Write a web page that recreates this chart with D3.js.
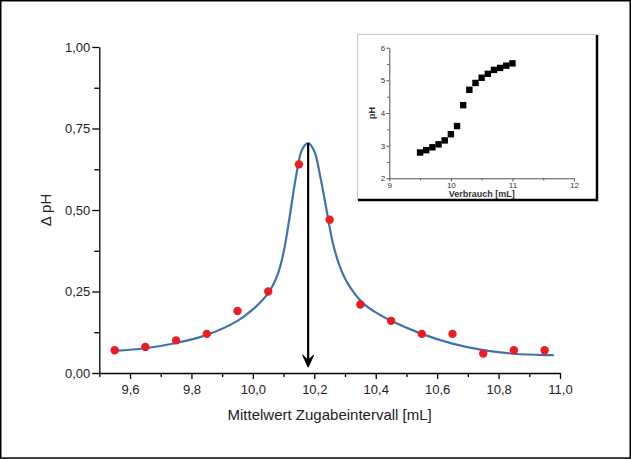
<!DOCTYPE html>
<html>
<head>
<meta charset="utf-8">
<script src="https://cdn.jsdelivr.net/npm/d3@7"></script>
<style>
  html, body { margin: 0; padding: 0; background: #fff; }
  svg { display: block; }
  text { font-family: Arial, "Liberation Sans", sans-serif; }
</style>
</head>
<body>
<svg id="chart" width="631" height="459"></svg>
<script>
// ---------- Data ----------
// Main chart: red points (Δ pH vs mean of addition interval)
const pointX = [9.55, 9.65, 9.75, 9.85, 9.95, 10.05, 10.15, 10.25, 10.35, 10.45, 10.55, 10.65, 10.75, 10.85, 10.95];
const pointY = [0.07, 0.08, 0.10, 0.12, 0.19, 0.25, 0.64, 0.47, 0.21, 0.16, 0.12, 0.12, 0.06, 0.07, 0.07];

// Fitted curve
const curveX = [9.55, 9.65, 9.75, 9.85, 9.95, 10.00, 10.05, 10.08, 10.10, 10.12, 10.14, 10.16, 10.18, 10.20, 10.22, 10.24, 10.26, 10.28, 10.30, 10.33, 10.36, 10.40, 10.45, 10.55, 10.65, 10.75, 10.85, 10.95, 10.98];
const curveY = [0.068, 0.076, 0.092, 0.117, 0.160, 0.195, 0.245, 0.300, 0.370, 0.480, 0.600, 0.685, 0.705, 0.680, 0.600, 0.500, 0.400, 0.335, 0.290, 0.245, 0.213, 0.186, 0.160, 0.120, 0.090, 0.070, 0.059, 0.055, 0.055];

// Equivalence-point arrow
const arrowX = 10.18;
const arrowTop = 0.705;
const arrowBottom = 0.018;

// Axis ticks
const xDomain = [9.5, 11.0];
const yDomain = [0, 1];
const xMajorTicks = [9.6, 9.8, 10.0, 10.2, 10.4, 10.6, 10.8, 11.0];
const xMinorTicks = [9.5, 9.7, 9.9, 10.1, 10.3, 10.5, 10.7, 10.9];
const yMajorTicks = [0, 0.25, 0.5, 0.75, 1.0];
const yMinorTicks = [0.125, 0.375, 0.625, 0.875];
const xTitle = "Mittelwert Zugabeintervall [mL]";
const yTitle = "\u0394 pH";

// Inset: titration curve
const insetX = [9.5, 9.6, 9.7, 9.8, 9.9, 10.0, 10.1, 10.2, 10.3, 10.4, 10.5, 10.6, 10.7, 10.8, 10.9, 11.0];
const insetY = [2.79, 2.86, 2.95, 3.04, 3.16, 3.35, 3.60, 4.24, 4.71, 4.92, 5.08, 5.20, 5.32, 5.38, 5.45, 5.52];
const insetXDomain = [9, 12];
const insetYDomain = [2, 6];
const insetXMajor = [9, 10, 11, 12];
const insetXMinor = [9.5, 10.5, 11.5];
const insetYMajor = [2, 3, 4, 5, 6];
const insetYMinor = [2.5, 3.5, 4.5, 5.5];
const insetXTitle = "Verbrauch [mL]";
const insetYTitle = "pH";

// ---------- Drawing ----------
const svg = d3.select("#chart");
const de = d3.formatLocale({decimal: ",", thousands: ".", grouping: [3], currency: ["", "\u20ac"]});
const f1 = de.format(".1f"), f2 = de.format(".2f");

// outer border
svg.append("rect").attr("x", 0.75).attr("y", 0.75).attr("width", 629.5).attr("height", 457.3)
  .attr("fill", "#fff").attr("stroke", "#000").attr("stroke-width", 1.5);

const x = d3.scaleLinear().domain(xDomain).range([99.3, 560]);
const y = d3.scaleLinear().domain(yDomain).range([373, 47]);

// x axis
const gx = svg.append("g").attr("transform", `translate(0,${y(0)})`);
gx.call(d3.axisBottom(x).tickValues(xMajorTicks).tickFormat(f1).tickSize(6).tickSizeOuter(0));
gx.append("g").call(d3.axisBottom(x).tickValues(xMinorTicks).tickFormat("").tickSize(4).tickSizeOuter(0))
  .select(".domain").remove();
gx.selectAll("text").attr("font-size", 13).attr("fill", "#222").attr("dy", "0.95em")
  .attr("font-family", "Arial, 'Liberation Sans', sans-serif");
gx.selectAll("path,line").attr("stroke", "#000").attr("stroke-width", 1.3);

// y axis
const gy = svg.append("g").attr("transform", `translate(${x(xDomain[0])},0)`);
gy.call(d3.axisLeft(y).tickValues(yMajorTicks).tickFormat(f2).tickSize(7).tickSizeOuter(0));
gy.append("g").call(d3.axisLeft(y).tickValues(yMinorTicks).tickFormat("").tickSize(5).tickSizeOuter(0))
  .select(".domain").remove();
gy.selectAll("text").attr("font-size", 13).attr("fill", "#222").attr("x", -9)
  .attr("font-family", "Arial, 'Liberation Sans', sans-serif");
gy.selectAll("path,line").attr("stroke", "#000").attr("stroke-width", 1.3);

// axis titles
svg.append("text").attr("x", (x(xDomain[0]) + x(xDomain[1])) / 2).attr("y", 420)
  .attr("text-anchor", "middle").attr("font-size", 15).attr("fill", "#222").text(xTitle);
svg.append("text").attr("transform", `translate(51,${y(0.5)}) rotate(-90)`)
  .attr("text-anchor", "middle").attr("font-size", 15).attr("fill", "#222").text(yTitle);

// fitted curve
const curveData = curveX.map((d, i) => [d, curveY[i]]);
svg.append("path").datum(curveData)
  .attr("d", d3.line().x(d => x(d[0])).y(d => y(d[1])).curve(d3.curveCatmullRom.alpha(0.5)))
  .attr("fill", "none").attr("stroke", "#3f72b0").attr("stroke-width", 2.2);

// red points
svg.append("g").selectAll("circle").data(pointX.map((d, i) => [d, pointY[i]])).join("circle")
  .attr("cx", d => x(d[0])).attr("cy", d => y(d[1])).attr("r", 4.2).attr("fill", "#ec1c24");

// arrow
const ax = x(arrowX), ay0 = y(arrowTop), ay1 = y(arrowBottom);
svg.append("line").attr("x1", ax).attr("x2", ax).attr("y1", ay0).attr("y2", ay1 - 3)
  .attr("stroke", "#000").attr("stroke-width", 2.2);
svg.append("path")
  .attr("d", `M${ax},${ay1} L${ax - 5.5},${ay1 - 12} L${ax},${ay1 - 7} L${ax + 5.5},${ay1 - 12} Z`)
  .attr("fill", "#000").attr("stroke", "#000").attr("stroke-width", 1).attr("stroke-linejoin", "miter");

// ---------- Inset ----------
const inset = svg.append("g");
inset.append("rect").attr("x", 357.5).attr("y", 34.5).attr("width", 239).attr("height", 165)
  .attr("fill", "#fff").attr("stroke", "#c8c8c8").attr("stroke-width", 1);
inset.append("line").attr("x1", 358).attr("x2", 598).attr("y1", 200).attr("y2", 200)
  .attr("stroke", "#000").attr("stroke-width", 2.5);
inset.append("line").attr("x1", 597).attr("x2", 597).attr("y1", 35).attr("y2", 201)
  .attr("stroke", "#000").attr("stroke-width", 2.5);

const ix = d3.scaleLinear().domain(insetXDomain).range([389.3, 574]);
const iy = d3.scaleLinear().domain(insetYDomain).range([178.3, 47.7]);

const igx = inset.append("g").attr("transform", `translate(0,${iy(insetYDomain[0])})`);
igx.call(d3.axisBottom(ix).tickValues(insetXMajor).tickFormat(d3.format("d")).tickSize(3).tickSizeOuter(0));
igx.append("g").call(d3.axisBottom(ix).tickValues(insetXMinor).tickFormat("").tickSize(2).tickSizeOuter(0))
  .select(".domain").remove();
igx.selectAll("text").attr("font-size", 8).attr("fill", "#333").attr("y", 4).attr("dy", "0.71em")
  .attr("font-family", "Arial, 'Liberation Sans', sans-serif");
igx.selectAll("path,line").attr("stroke", "#555").attr("stroke-width", 1);

const igy = inset.append("g").attr("transform", `translate(${ix(insetXDomain[0])},0)`);
igy.call(d3.axisLeft(iy).tickValues(insetYMajor).tickFormat(d3.format("d")).tickSize(3).tickSizeOuter(0));
igy.append("g").call(d3.axisLeft(iy).tickValues(insetYMinor).tickFormat("").tickSize(2).tickSizeOuter(0))
  .select(".domain").remove();
igy.selectAll("text").attr("font-size", 8).attr("fill", "#333").attr("x", -4)
  .attr("font-family", "Arial, 'Liberation Sans', sans-serif");
igy.selectAll("path,line").attr("stroke", "#555").attr("stroke-width", 1);

inset.append("text").attr("x", (ix(insetXDomain[0]) + ix(insetXDomain[1])) / 2).attr("y", 196.5)
  .attr("text-anchor", "middle").attr("font-size", 9).attr("font-weight", "bold").attr("fill", "#333")
  .text(insetXTitle);
inset.append("text").attr("transform", `translate(375,${iy(4)}) rotate(-90)`)
  .attr("text-anchor", "middle").attr("font-size", 9).attr("font-weight", "bold").attr("fill", "#333")
  .text(insetYTitle);

inset.append("g").selectAll("rect").data(insetX.map((d, i) => [d, insetY[i]])).join("rect")
  .attr("x", d => ix(d[0]) - 3.2).attr("y", d => iy(d[1]) - 3.2)
  .attr("width", 6.4).attr("height", 6.4).attr("fill", "#000");
</script>
</body>
</html>
